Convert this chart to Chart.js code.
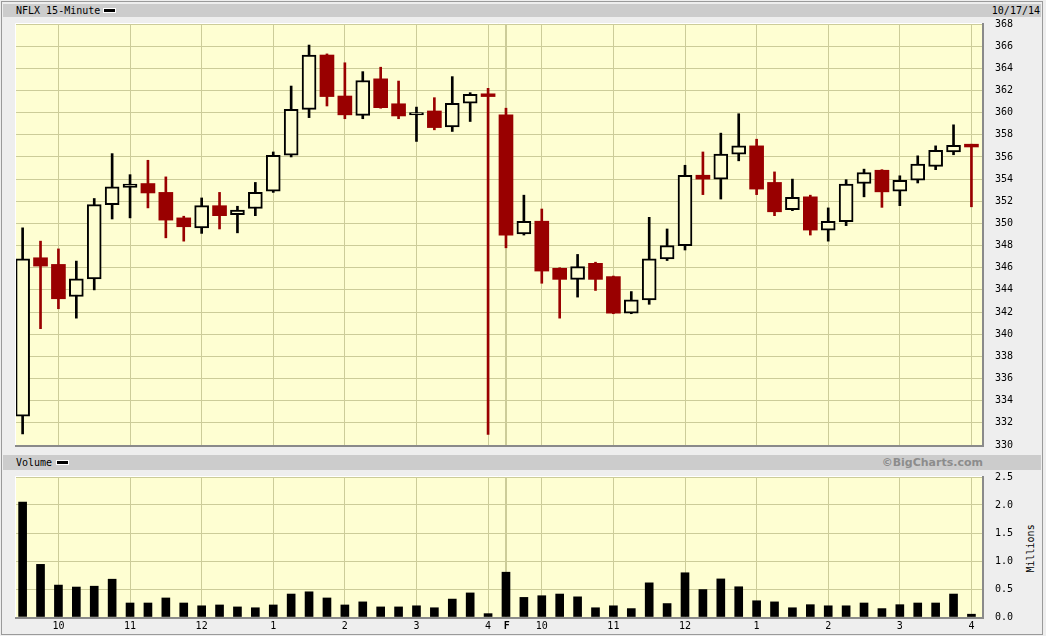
<!DOCTYPE html>
<html>
<head>
<meta charset="utf-8">
<title>NFLX 15-Minute</title>
<script src="https://cdn.jsdelivr.net/npm/chart.js@4/dist/chart.umd.min.js"></script>
<style>
    body { margin: 0; width: 1046px; height: 636px; position: relative; overflow: hidden; background: #eeeeee;
           font-family: "DejaVu Sans Mono", "Liberation Mono", monospace; font-size: 10px; color: #000; }
    .frame { position: absolute; left: 1px; top: 1px; width: 1040px; height: 632px; border: 1px solid #9a9a9a; }
    .band { position: absolute; left: 3px; width: 1038px; background: #cccccc; }
    .txt { position: absolute; white-space: nowrap; line-height: 13px; }
    .dash { position: absolute; width: 11px; height: 3px; background: #000; border: 1px solid #fff; }
    canvas { position: absolute; left: 0; }
</style>
</head>
<body>
<div class="frame"></div>
<div class="band" style="top:4px; height:13px;"></div>
<div class="txt" style="left:16px; top:4px;">NFLX 15-Minute</div>
<div class="dash" style="left:103px; top:8px;"></div>
<div class="txt" style="right:6px; top:4px;">10/17/14</div>

<div class="band" style="top:455px; height:15px;"></div>
<div class="txt" style="left:16px; top:456px;">Volume</div>
<div class="dash" style="left:56px; top:460px;"></div>
<div class="txt" style="right:63px; top:456px; font-family:'DejaVu Sans', sans-serif; font-weight:bold; font-size:11px; color:#8c8c8c;">©BigCharts.com</div>
<div class="txt" style="left:1006px; top:542px; width:48px; text-align:center; transform:rotate(-90deg);">Millions</div>

<canvas id="price" width="1046" height="464" style="top:0;"></canvas>
<canvas id="volume" width="1046" height="186" style="top:450px;"></canvas>

<script>
// --- DATOS: 15-minute bars, Thu 9:30 -> 4:00, then Fri 9:30 -> 4:00 ---
const opens = [
    332.6, 346.9, 346.3, 343.4, 345.0, 351.7, 353.25, 353.6, 352.8, 350.5, 349.6, 351.6, 350.8, 351.35,
    352.9, 356.15, 360.3, 365.2, 361.5, 359.75, 363.05, 360.8, 359.8, 360.15, 358.7, 360.85, 361.7,
    359.8, 349.05, 350.2, 345.95, 344.95, 346.4, 345.2, 341.9, 343.1, 346.8, 348.0, 354.35, 354.0,
    356.25, 357.0, 353.7, 351.25, 352.4, 349.4, 350.15, 353.6, 354.8, 352.9, 353.9, 355.15, 356.45, 357.15
];
const highs = [
    349.6, 348.4, 347.7, 346.6, 352.25, 356.3, 354.4, 355.7, 354.2, 350.65, 352.3, 352.8, 351.55, 353.7,
    356.45, 362.4, 366.1, 365.3, 364.5, 363.7, 364.1, 362.85, 360.5, 361.35, 363.25, 361.8, 362.2,
    360.4, 352.55, 351.3, 346.0, 347.2, 346.5, 345.25, 343.85, 350.55, 349.5, 355.25, 356.45, 358.15,
    359.9, 357.6, 354.65, 354.0, 352.55, 351.4, 353.95, 354.9, 354.85, 354.3, 356.1, 357.0, 358.9, 357.15
];
const lows = [
    331.0, 340.5, 342.3, 341.45, 344.0, 350.4, 350.5, 351.4, 348.7, 348.4, 349.1, 349.5, 349.15, 350.7,
    352.8, 356.0, 359.55, 360.6, 359.45, 359.45, 360.4, 359.45, 357.4, 358.45, 358.3, 359.2, 330.95,
    347.8, 348.95, 344.6, 341.45, 343.35, 343.95, 341.85, 341.85, 342.7, 346.65, 347.6, 352.6, 352.2,
    355.65, 352.6, 350.7, 351.15, 348.95, 348.4, 349.8, 352.4, 351.45, 351.6, 353.65, 354.85, 356.2, 351.5
];
const closes = [
    346.8, 346.15, 343.2, 345.0, 351.7, 353.3, 353.55, 352.75, 350.3, 349.7, 351.6, 350.7, 351.2, 352.8,
    356.15, 360.3, 365.2, 361.45, 359.8, 362.9, 360.45, 359.7, 360.0, 358.65, 360.85, 361.65, 361.45,
    348.95, 350.2, 345.7, 344.95, 346.1, 344.95, 341.9, 343.1, 346.8, 348.0, 354.35, 354.0, 356.25,
    357.0, 353.1, 351.05, 352.35, 349.4, 350.2, 353.55, 354.6, 352.85, 353.9, 355.35, 356.6, 357.05, 356.9
];
// volume in millions
const volumes = [
    2.05, 0.94, 0.57, 0.535, 0.55, 0.675, 0.25, 0.25, 0.34, 0.25, 0.2, 0.215, 0.18, 0.165,
    0.215, 0.41, 0.45, 0.34, 0.215, 0.27, 0.18, 0.18, 0.2, 0.165, 0.32, 0.43, 0.06,
    0.8, 0.35, 0.38, 0.41, 0.36, 0.165, 0.2, 0.15, 0.61, 0.24, 0.79, 0.49, 0.68, 0.54,
    0.29, 0.27, 0.165, 0.22, 0.2, 0.2, 0.25, 0.15, 0.22, 0.25, 0.25, 0.41, 0.05
];

// hour gridlines (in bar slots) and their labels; the pair at ~27 is the day break
const timeTickSlots = [2, 6, 10, 14, 18, 22, 26, 26.96, 27.04, 29, 33, 37, 41, 45, 49, 53];
const timeTickLabels = ['10', '11', '12', '1', '2', '3', '4', '', 'F', '10', '11', '12', '1', '2', '3', '4'];
const priceTicks = [330, 332, 334, 336, 338, 340, 342, 344, 346, 348, 350, 352, 354, 356, 358, 360, 362, 364, 366, 368];
const volumeTicks = [0, 0.5, 1.0, 1.5, 2.0, 2.5];

// --- ESTILO ---
const RED = '#990000';
const INK = '#000000';
const PLOT = '#fefed2';
const GRID = '#cccc99';
const MONO = '"DejaVu Sans Mono", "Liberation Mono", monospace';
const SLOT_MIN = -0.37;
const SLOT_MAX = 53.59;

const slots = opens.map((_, i) => i);
const isUp = i => closes[i] >= opens[i];

// yellow plot + bevelled frame like the old gif
const plotFrame = {
    id: 'plotFrame',
    beforeDraw(chart) {
        const { ctx, chartArea: a } = chart;
        ctx.save();
        ctx.fillStyle = PLOT;
        ctx.fillRect(a.left, a.top, a.right - a.left, a.bottom - a.top);
        ctx.restore();
    },
    afterDraw(chart) {
        const { ctx, chartArea: a } = chart;
        ctx.save();
        ctx.lineWidth = 1;
        ctx.strokeStyle = '#ffffff';
        ctx.beginPath();
        ctx.moveTo(a.left - 0.5, a.bottom);
        ctx.lineTo(a.left - 0.5, a.top - 0.5);
        ctx.lineTo(a.right, a.top - 0.5);
        ctx.stroke();
        ctx.lineWidth = 2;
        ctx.strokeStyle = '#8a8a8a';
        ctx.beginPath();
        ctx.moveTo(a.right + 1, a.top - 1);
        ctx.lineTo(a.right + 1, a.bottom + 1);
        ctx.lineTo(a.left - 1, a.bottom + 1);
        ctx.stroke();
        ctx.restore();
    }
};

function timeAxis(showLabels) {
    return {
        type: 'linear',
        min: SLOT_MIN,
        max: SLOT_MAX,
        offset: false,
        afterBuildTicks: s => { s.ticks = timeTickSlots.map(v => ({ value: v })); },
        afterFit: s => { s.height = showLabels ? 18 : 0; },
        grid: { color: GRID, lineWidth: 1, drawTicks: false, offset: false },
        border: { display: false },
        ticks: {
            display: showLabels,
            autoSkip: false,
            maxRotation: 0,
            padding: 3,
            color: INK,
            callback: (v, i) => timeTickLabels[i],
            font: ctx => ({ family: MONO, size: 10, weight: (ctx.tick && ctx.tick.label === 'F') ? 'bold' : 'normal' })
        }
    };
}

function valueAxis(values, fmt) {
    return {
        position: 'right',
        min: values[0],
        max: values[values.length - 1],
        afterBuildTicks: s => { s.ticks = values.map(v => ({ value: v })); },
        afterFit: s => { s.width = 64; },
        grid: { color: GRID, lineWidth: 1, drawTicks: false },
        border: { display: false },
        ticks: { padding: 13, color: INK, font: { family: MONO, size: 10 }, callback: fmt }
    };
}

const common = {
    responsive: false,
    animation: false,
    devicePixelRatio: 1,
    events: [],
    plugins: { legend: { display: false }, tooltip: { enabled: false } }
};

// --- PRECIO (velas) ---
new Chart(document.getElementById('price'), {
    type: 'bar',
    data: {
        datasets: [
            {   // wicks
                data: slots.map(i => ({ x: i, y: [lows[i], highs[i]] })),
                backgroundColor: slots.map(i => isUp(i) ? INK : RED),
                barThickness: 2,
                grouped: false,
                order: 2
            },
            {   // bodies
                data: slots.map(i => ({ x: i, y: [opens[i], closes[i]] })),
                backgroundColor: slots.map(i => isUp(i) ? PLOT : RED),
                borderColor: slots.map(i => isUp(i) ? INK : RED),
                borderWidth: slots.map(i => isUp(i) ? 2 : 0),
                borderSkipped: false,
                barThickness: 14,
                grouped: false,
                order: 1
            }
        ]
    },
    options: {
        ...common,
        layout: { padding: { left: 16, top: 24, right: 0, bottom: 6 } },
        scales: {
            x: timeAxis(false),
            y: valueAxis(priceTicks, v => String(v))
        }
    },
    plugins: [plotFrame]
});

// --- VOLUMEN ---
new Chart(document.getElementById('volume'), {
    type: 'bar',
    data: {
        datasets: [{
            data: slots.map(i => ({ x: i, y: volumes[i] })),
            backgroundColor: INK,
            barThickness: 8
        }]
    },
    options: {
        ...common,
        layout: { padding: { left: 16, top: 27, right: 0, bottom: 0 } },
        scales: {
            x: timeAxis(true),
            y: valueAxis(volumeTicks, v => v.toFixed(1))
        }
    },
    plugins: [plotFrame]
});
</script>
</body>
</html>
